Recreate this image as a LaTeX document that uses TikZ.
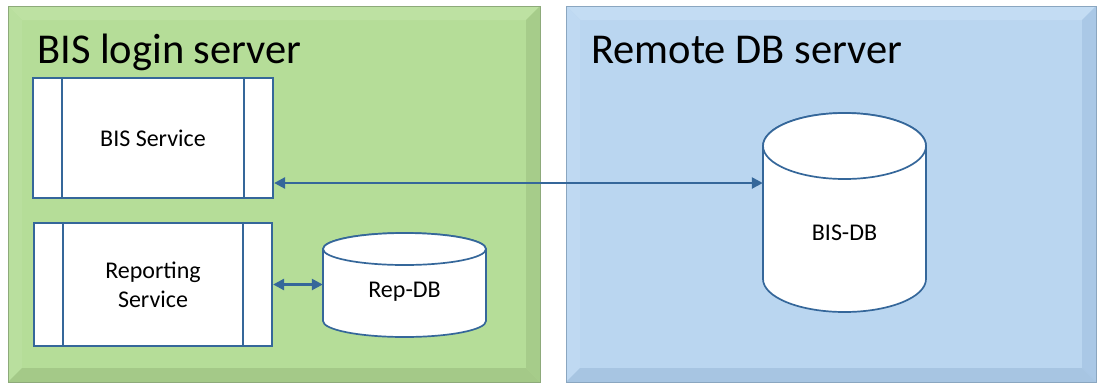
\documentclass[tikz,border=0pt]{standalone}
\usepackage{fontspec}
\setmainfont{Carlito}
\usetikzlibrary{arrows.meta}
\definecolor{edge}{HTML}{35679A}
\definecolor{gfill}{HTML}{B5DD98}
\definecolor{gtop}{HTML}{BDE1A2}
\definecolor{gleft}{HTML}{B9DF9E}
\definecolor{gright}{HTML}{A6CC8A}
\definecolor{gbot}{HTML}{A4C988}
\definecolor{gline}{HTML}{8DAA7A}
\definecolor{bfill}{HTML}{BAD6F0}
\definecolor{btop}{HTML}{C3DCF3}
\definecolor{bleft}{HTML}{BFD9F2}
\definecolor{bright}{HTML}{AAC8E6}
\definecolor{bbot}{HTML}{A7C5E2}
\definecolor{bline}{HTML}{8AA6C0}
\begin{document}
\begin{tikzpicture}[x=1pt,y=-1pt,
  svcbox/.style={draw=edge, line width=2.2pt, fill=white, inner sep=0pt, align=center,
     font=\fontsize{24}{29}\selectfont},
  boxline/.style={draw=edge, line width=2.2pt},
  cyl/.style={draw=edge, line width=1.7pt, fill=white},
  lbl/.style={font=\fontsize{24}{29}\selectfont, inner sep=0pt},
  title/.style={font=\fontsize{42.5}{50}\selectfont, anchor=base west, inner sep=0pt},
  link/.style={draw=edge, line width=2.5pt, {Triangle[length=11pt,width=11pt]}-{Triangle[length=11pt,width=11pt]}}
]
\useasboundingbox (0,0) rectangle (1100,384);
\fill[white] (0,0) rectangle (1100,384);

% green panel with bevel
\fill[gfill] (8,6) rectangle (540,382);
\fill[gtop] (8,6) -- (540,6) -- (526,20) -- (22,20) -- cycle;
\fill[gleft] (8,6) -- (22,20) -- (22,368) -- (8,382) -- cycle;
\fill[gright] (540,6) -- (540,382) -- (526,368) -- (526,20) -- cycle;
\fill[gbot] (8,382) -- (540,382) -- (526,368) -- (22,368) -- cycle;
\draw[gline, line width=0.8pt] (8,6) rectangle (540,382);

% blue panel with bevel
\fill[bfill] (566,6) rectangle (1096,382);
\fill[btop] (566,6) -- (1096,6) -- (1082,20) -- (580,20) -- cycle;
\fill[bleft] (566,6) -- (580,20) -- (580,368) -- (566,382) -- cycle;
\fill[bright] (1096,6) -- (1096,382) -- (1082,368) -- (1082,20) -- cycle;
\fill[bbot] (566,382) -- (1096,382) -- (1082,368) -- (580,368) -- cycle;
\draw[bline, line width=0.8pt] (566,6) rectangle (1096,382);

% titles
\node[title] (gtitle) at (37,63) {BIS login server};
\node[title] (btitle) at (591,63) {Remote DB server};

% BIS Service box
\node[svcbox, minimum width=240pt, minimum height=120pt] (bissvc) at (153,138) {BIS Service};
\draw[boxline] ([xshift=30pt]bissvc.north west) -- ([xshift=30pt]bissvc.south west);
\draw[boxline] ([xshift=-30pt]bissvc.north east) -- ([xshift=-30pt]bissvc.south east);

% Reporting Service box
\node[svcbox, minimum width=238pt, minimum height=123pt] (repsvc) at (153,284.5) {Reporting\\Service};
\draw[boxline] ([xshift=30pt]repsvc.north west) -- ([xshift=30pt]repsvc.south west);
\draw[boxline] ([xshift=-30pt]repsvc.north east) -- ([xshift=-30pt]repsvc.south east);

% Rep-DB cylinder
\path[cyl] (323,249) -- (323,321) arc[start angle=180, end angle=0, x radius=81.5, y radius=16]
  -- (486,249) arc[start angle=0, end angle=-180, x radius=81.5, y radius=16] -- cycle;
\draw[cyl] (404.5,249) ellipse[x radius=81.5, y radius=16];
\node[inner sep=0pt, minimum width=163pt, minimum height=104pt] (repdb) at (404.5,285) {};
\node[lbl] (replbl) at (404.5,292) {Rep-DB};

% BIS-DB cylinder
\path[cyl] (763,146) -- (763,279) arc[start angle=180, end angle=0, x radius=81.5, y radius=33]
  -- (926,146) arc[start angle=0, end angle=-180, x radius=81.5, y radius=33] -- cycle;
\draw[cyl] (844.5,146) ellipse[x radius=81.5, y radius=33];
\node[inner sep=0pt, minimum width=163pt, minimum height=199pt] (bisdb) at (844.5,212.5) {};
\node[lbl] (bislbl) at (844.5,233) {BIS-DB};

% connectors
\coordinate (ylink) at (0,183);
\draw[link] (bissvc.east |- ylink) -- (bisdb.west |- ylink);
\draw[link] (repsvc.east) -- (repsvc.east -| repdb.west);
\end{tikzpicture}
\end{document}
